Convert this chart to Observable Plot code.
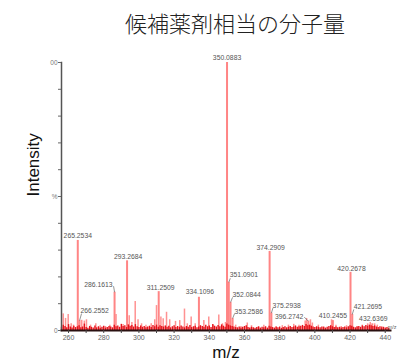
<!DOCTYPE html>
<html><head><meta charset="utf-8">
<script src="https://cdn.jsdelivr.net/npm/d3@7"></script>
<script src="https://cdn.jsdelivr.net/npm/@observablehq/plot@0.6"></script>
<style>
body{margin:0;background:#fff;}
#wrap{position:relative;width:397px;height:363px;overflow:hidden;background:#fff;}
#title{position:absolute;left:73px;top:8px;width:324px;line-height:28px;text-align:center;font-family:"Noto Sans CJK JP","Noto Sans",sans-serif;font-size:22px;color:#222;font-weight:300;}
#chart{position:absolute;left:0;top:45px;}
</style></head><body>
<div id="wrap"><div id="title">候補薬剤相当の分子量</div><div id="chart"></div></div>
<script>
// Labelled peaks (m/z, relative intensity %)
const peakMz = [265.2534, 266.2552, 286.1613, 293.2684, 311.2509, 334.1096, 350.0883, 351.0901, 352.0844, 353.2586, 374.2909, 375.2938, 396.2742, 410.2455, 420.2678, 421.2695, 432.6369];
const peakInt = [33.6, 3.7, 14.3, 26.0, 14.5, 12.4, 100, 18.0, 10.5, 4.5, 29.5, 6.5, 3.5, 3.7, 21.7, 6.0, 2.5];

// Unlabelled minor peaks
const minorMz = [257.0, 258.3, 259.8, 261.5, 262.8, 267.5, 269.0, 270.2, 272.5, 275.5, 278.0, 281.0, 283.5, 287.0, 291.0, 294.5, 296.0, 297.9, 299.5, 301.5, 304.0, 307.0, 309.0, 310.0, 312.5, 313.8, 315.7, 317.5, 320.8, 323.2, 325.9, 327.5, 329.7, 332.0, 336.9, 339.7, 342.2, 345.4, 347.5, 349.2, 355.0, 358.0, 361.6, 364.0, 368.0, 371.0, 378.0, 381.5, 385.0, 388.0, 391.0, 394.5, 395.3, 397.5, 398.6, 402.0, 405.0, 409.5, 412.0, 415.0, 418.0, 424.0, 427.0, 430.0, 431.5, 434.0, 435.5, 438.0];
const minorInt = [6.2, 4.5, 6.0, 2.5, 2.0, 3.8, 3.5, 4.0, 2.0, 2.5, 1.8, 1.5, 2.0, 6.0, 2.2, 5.5, 3.0, 10.8, 4.0, 2.5, 2.0, 2.5, 4.0, 9.3, 5.0, 4.4, 6.8, 4.0, 3.4, 3.7, 8.0, 2.5, 5.0, 2.5, 3.7, 5.0, 2.0, 5.8, 2.5, 3.0, 2.0, 1.5, 2.8, 1.8, 1.5, 2.0, 1.5, 1.8, 2.0, 2.3, 2.0, 3.5, 4.5, 4.0, 2.8, 2.0, 1.5, 4.0, 2.0, 1.5, 1.8, 1.5, 2.0, 2.5, 3.0, 2.5, 2.0, 1.5];

// Baseline noise, one reading per m/z unit starting at 256
const noiseStart = 256;
const noiseInt = [
1.2,2.0,1.5,1.0,2.2,1.3,0.9,1.6,1.1,1.4,
1.8,1.0,1.3,2.4,1.1,0.8,1.5,1.2,0.9,1.7,
1.0,1.4,0.8,1.2,1.6,0.9,1.1,1.5,1.3,1.0,
2.0,1.4,1.7,1.2,2.3,1.5,1.8,1.1,2.1,1.6,
1.9,1.3,2.2,1.4,1.1,1.7,1.2,1.5,1.0,1.3,
1.6,1.1,1.9,1.4,2.0,1.2,1.8,1.5,1.3,1.7,
1.2,1.6,1.0,1.4,1.8,1.1,1.5,1.2,1.7,1.3,
1.0,1.5,1.2,1.9,1.1,1.4,1.6,1.0,1.3,1.8,
1.5,1.2,2.0,1.4,1.7,1.1,2.2,1.6,1.3,1.9,
1.4,2.1,1.6,1.2,2.4,2.0,1.7,1.5,1.3,1.1,
1.0,1.3,0.9,1.2,1.5,1.8,1.1,0.9,1.2,1.0,
0.8,1.1,1.3,0.9,1.2,1.0,1.4,0.9,1.6,1.3,
1.1,0.9,1.2,1.0,1.3,0.8,1.1,1.4,1.0,1.2,
1.5,1.1,1.3,1.7,1.2,1.4,1.6,1.9,1.5,2.2,
1.8,2.0,1.6,1.3,1.1,1.4,1.2,1.0,1.3,1.1,
0.9,1.2,1.5,1.8,1.4,1.1,1.3,1.0,1.2,0.9,
1.1,1.3,1.0,1.4,1.8,1.6,1.2,1.0,1.3,1.5,
1.2,1.7,1.4,1.9,1.6,2.0,1.8,1.5,1.7,1.3,
1.1,1.4,1.0,1.2,0.9,1.1,0.8];

const xTicks = [260, 280, 300, 320, 340, 360, 380, 400, 420, 440];
const yTickValues = [0, 50, 100];
const yTickLabels = ["0", "%", "00"];
const xTitle = "m/z";
const yTitle = "Intensity";

// ---- build tables ----
const peaks = peakMz.map((mz, i) => ({mz, v: peakInt[i]}));
const minor = minorMz.map((mz, i) => ({mz, v: minorInt[i]}));
const noise = noiseInt.map((v, i) => ({mz: noiseStart + i, v}));

const W = 397, H = 318, ML = 61, MR = 7, MT = 17, MB = 33;
const xDom = [256, 443], yDom = [0, 100];
const kx = (W - ML - MR) / (xDom[1] - xDom[0]);
const ky = (H - MT - MB) / (yDom[1] - yDom[0]);

// label layout (pixels relative to peak top)
const layout = {
  "265.2534": {dx: 0, dy: -5, a: "middle"},
  "266.2552": {dx: 1, dy: -10, a: "start", lx: 2, ly: -7},
  "286.1613": {dx: -2, dy: -7, a: "end", lx: -1, ly: -6},
  "293.2684": {dx: 1, dy: -4, a: "middle"},
  "311.2509": {dx: 2, dy: -4, a: "middle"},
  "334.1096": {dx: 1, dy: -5, a: "middle"},
  "350.0883": {dx: 0, dy: -5, a: "middle"},
  "351.0901": {dx: 1, dy: -7, a: "start", lx: 1.5, ly: -4},
  "352.0844": {dx: 2, dy: -8, a: "start", lx: 2, ly: -5},
  "353.2586": {dx: 2, dy: -7, a: "start", lx: 2, ly: -5},
  "374.2909": {dx: 1, dy: -4, a: "middle"},
  "375.2938": {dx: 1, dy: -7, a: "start", lx: 1.5, ly: -5},
  "396.2742": {dx: -5, dy: -4, a: "end", lx: -4, ly: -4},
  "410.2455": {dx: 0, dy: -5, a: "middle"},
  "420.2678": {dx: 1, dy: -4, a: "middle"},
  "421.2695": {dx: 1.5, dy: -8, a: "start", lx: 1.5, ly: -5},
  "432.6369": {dx: 1, dy: -5, a: "middle"}
};

const labelMarks = [];
for (const p of peaks) {
  const key = p.mz.toFixed(4);
  const L = layout[key];
  labelMarks.push(Plot.text([p], {x: "mz", y: "v", text: d => d.mz.toFixed(4), dx: L.dx, dy: L.dy, textAnchor: L.a, lineAnchor: "middle", fontSize: 6.8, fill: "#555"}));
  if (L.lx !== undefined) {
    labelMarks.push(Plot.link([p], {x1: "mz", y1: "v", x2: d => d.mz + L.lx / kx, y2: d => d.v - L.ly / ky, stroke: "#666", strokeWidth: 0.7}));
  }
}

const chart = Plot.plot({
  width: W, height: H,
  marginLeft: ML, marginRight: MR, marginTop: MT, marginBottom: MB,
  x: {domain: xDom},
  y: {domain: yDom},
  style: {fontFamily: "'Liberation Sans', Arial, sans-serif", background: "white", overflow: "visible"},
  marks: [
    Plot.ruleX(minor, {x: "mz", y1: 0, y2: "v", stroke: "#ff7f7f", strokeWidth: 1.5, strokeOpacity: 0.85}),
    Plot.ruleX(peaks, {x: "mz", y1: 0, y2: "v", stroke: "#ff8585", strokeWidth: 2}),
    Plot.ruleX(noise, {x: "mz", y1: 0, y2: "v", stroke: "#e5121a", strokeWidth: 1.4}),
    Plot.frame({anchor: "left", stroke: "#555", strokeWidth: 1.5}),
    Plot.frame({anchor: "bottom", stroke: "#2a1010", strokeWidth: 2}),
    Plot.axisY({ticks: d3.range(0, 101, 10), tickSize: 3, tickFormat: d => { const j = yTickValues.indexOf(d); return j >= 0 ? yTickLabels[j] : ""; }, fontSize: 6.5, fill: "#777", stroke: "#666", label: null, tickPadding: 1}),
    Plot.axisX({ticks: d3.range(260, 441, 10), tickSize: 3, tickFormat: d => xTicks.includes(d) ? String(d) : "", fontSize: 7, fill: "#666", stroke: "#444", label: null, tickPadding: 2}),
    ...labelMarks,
    Plot.text([xTitle], {frameAnchor: "bottom", dy: 22, lineAnchor: "middle", fontSize: 17, fill: "#111", text: d => d}),
    Plot.text([yTitle], {frameAnchor: "left", dx: -28, rotate: -90, lineAnchor: "middle", fontSize: 17, fill: "#111", text: d => d}),
    Plot.text([xTitle], {frameAnchor: "bottom-right", dx: 6, dy: -3, textAnchor: "end", lineAnchor: "middle", fontSize: 5.5, fill: "#666", text: d => d})
  ]
});
document.getElementById("chart").appendChild(chart);
</script>
</body></html>
